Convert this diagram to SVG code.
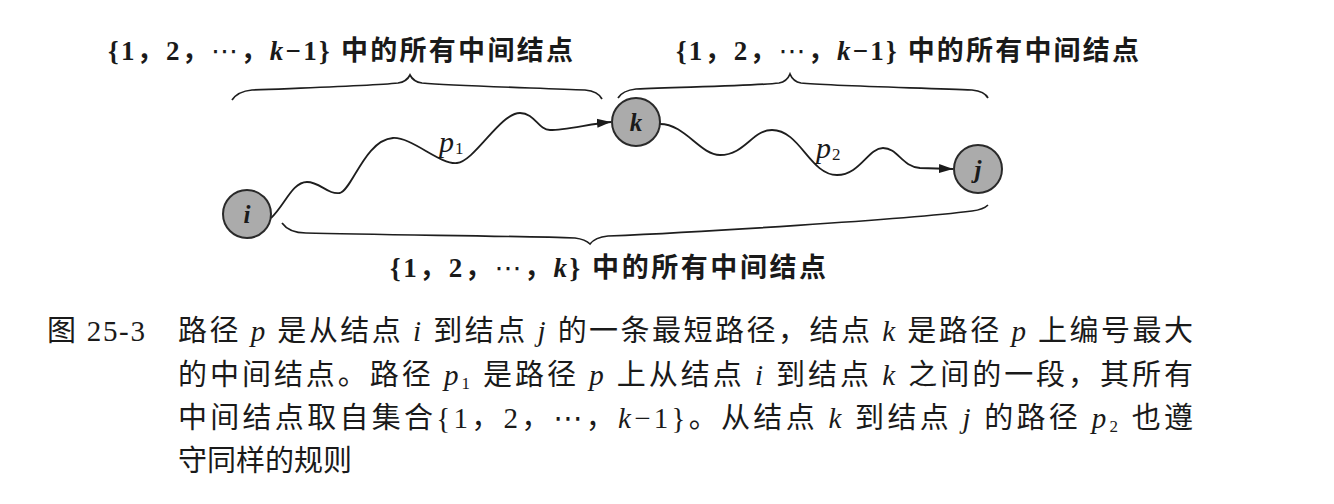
<svg xmlns="http://www.w3.org/2000/svg" width="1334" height="504" viewBox="0 0 1334 504">
<style>
.bg{fill:#ffffff}
.node{fill:#ababab;stroke:#2a2a2a;stroke-width:2}
.nlab{font-family:"Liberation Serif","DejaVu Serif",serif;font-style:italic;font-weight:bold;font-size:25px;fill:#1a1a1a;text-anchor:middle}
.wave{fill:none;stroke:#1e1e1e;stroke-width:1.8}
.brace{fill:none;stroke:#1e1e1e;stroke-width:1.7}
.lab{font-family:"Liberation Serif","Noto Sans CJK SC",serif;font-size:27px;fill:#1a1a1a}
.b{font-weight:bold}
.it{font-style:italic}
.dots{font-family:"DejaVu Sans",sans-serif;font-weight:normal}
.plab{font-family:"Liberation Serif",serif;font-style:italic;font-size:30px;fill:#1a1a1a}
.sub{font-size:17px;font-style:normal}
.cap{font-family:"Liberation Serif","Noto Sans CJK SC",serif;font-size:29px;fill:#1a1a1a}
</style>
<defs>
<marker id="arr" markerUnits="userSpaceOnUse" markerWidth="16" markerHeight="12" refX="14" refY="6" orient="auto">
<path d="M0,1.5 L14,6 L0,10.5 z" fill="#1a1a1a"/>
</marker>
</defs>
<rect class="bg" x="0" y="0" width="1334" height="504"/>

<g id="braces">
<path class="brace" d="M232,100 C236,94 242,91 252,90 C300,88 370,86 398,83 C405,82 408,79 410,75 C412,79 415,82 422,83 C455,86 540,88 585,90 C595,91 600,95 602,99"/>
<path class="brace" d="M618,98 C621,93 627,90 636,89 C680,87 755,86 779,83 C785,82 788,79 790,74 C792,79 795,82 801,83 C830,86 930,88 972,90 C982,91 986,94 988,98"/>
<path class="brace" d="M282,223 C287,230 294,233 306,233 C380,235 520,236 575,238 C583,239 587,241 590,244 C593,240 598,237 608,236 C700,232 900,220 972,211 C980,210 985,208 988,205"/>
</g>

<g id="connectors">
<path class="wave" marker-end="url(#arr)" d="M271,218 C285,205 292,182 307,182 C320,182 328,195 340,193 C352,190 365,140 393,138 C412,137 440,165 457,163 C475,161 500,113 520,113 C535,113 538,130 550,130 C565,130 590,124 611,122"/>
<path class="wave" marker-end="url(#arr)" d="M660,124 C685,124 700,155 720,155 C745,155 752,130 772,130 C800,130 810,175 837,175 C860,175 868,148 883,148 C898,148 902,167 920,168 L953,169"/>
<text class="plab" x="439" y="152">p<tspan class="sub" dx="1" dy="2">1</tspan></text>
<text class="plab" x="816" y="158">p<tspan class="sub" dx="1" dy="2">2</tspan></text>
</g>

<g id="node-i">
<circle class="node" cx="247" cy="214" r="24"/>
<text class="nlab" x="247" y="223">i</text>
</g>
<g id="node-k">
<circle class="node" cx="636" cy="122" r="24"/>
<text class="nlab" x="636" y="131">k</text>
</g>
<g id="node-j">
<circle class="node" cx="978" cy="169" r="24"/>
<text class="nlab" x="978" y="178">j</text>
</g>

<g id="labels">
<text class="lab b" x="108" y="60" textLength="465" lengthAdjust="spacing">{1，2，<tspan class="dots">⋯</tspan>，<tspan class="it">k</tspan>−1} 中的所有中间结点</text>
<text class="lab b" x="676" y="60" textLength="463" lengthAdjust="spacing">{1，2，<tspan class="dots">⋯</tspan>，<tspan class="it">k</tspan>−1} 中的所有中间结点</text>
<text class="lab b" x="390" y="277" textLength="436" lengthAdjust="spacing">{1，2，<tspan class="dots">⋯</tspan>，<tspan class="it">k</tspan>} 中的所有中间结点</text>
</g>

<g id="caption">
<text class="cap" x="47" y="341" textLength="98" lengthAdjust="spacing">图 25-3</text>
<text class="cap" x="178" y="341" textLength="1015" lengthAdjust="spacing">路径 <tspan class="it">p</tspan> 是从结点 <tspan class="it">i</tspan> 到结点 <tspan class="it">j</tspan> 的一条最短路径，结点 <tspan class="it">k</tspan> 是路径 <tspan class="it">p</tspan> 上编号最大</text>
<text class="cap" x="178" y="385" textLength="1015" lengthAdjust="spacing">的中间结点。路径 <tspan class="it">p</tspan><tspan font-size="17" dy="4">1</tspan><tspan dy="-4"> 是路径 </tspan><tspan class="it">p</tspan> 上从结点 <tspan class="it">i</tspan> 到结点 <tspan class="it">k</tspan> 之间的一段，其所有</text>
<text class="cap" x="178" y="428" textLength="1015" lengthAdjust="spacing">中间结点取自集合{1，2，<tspan class="dots">⋯</tspan>，<tspan class="it">k</tspan>−1}。从结点 <tspan class="it">k</tspan> 到结点 <tspan class="it">j</tspan> 的路径 <tspan class="it">p</tspan><tspan font-size="17" dy="4">2</tspan><tspan dy="-4"> 也遵</tspan></text>
<text class="cap" x="178" y="471">守同样的规则</text>
</g>
</svg>
